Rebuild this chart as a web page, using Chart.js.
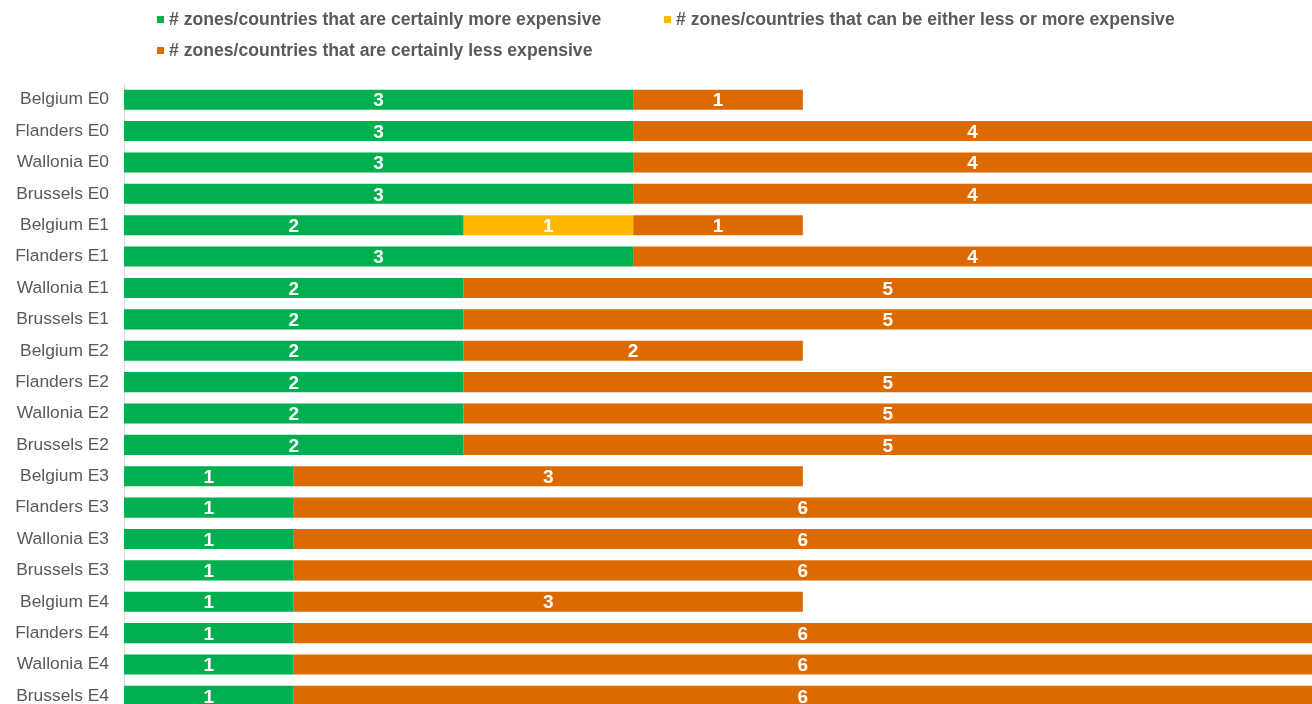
<!DOCTYPE html>
<html>
<head>
<meta charset="utf-8">
<script src="https://cdn.jsdelivr.net/npm/chart.js@4.4.1/dist/chart.umd.min.js"></script>
<style>
    html, body { margin: 0; padding: 0; background: #fff; overflow: hidden; }
    #wrap { position: relative; width: 1312px; height: 737px; }
    #legend {
        position: absolute; left: 157px; top: 9px; width: 1120px;
        display: flex; flex-wrap: wrap; row-gap: 11px;
        font-family: 'Liberation Sans', Arial, sans-serif; font-weight: bold;
        font-size: 17.6px; color: #595959; line-height: 20px;
    }
    .item { display: flex; align-items: center; min-width: 507px; }
    .box { width: 7px; height: 7px; margin-right: 5px; }
</style>
</head>
<body>
<div id="wrap">
    <canvas id="chart" width="1312" height="737"></canvas>
    <div id="legend"></div>
</div>
<script>
const categories = [
    'Belgium E0', 'Flanders E0', 'Wallonia E0', 'Brussels E0',
    'Belgium E1', 'Flanders E1', 'Wallonia E1', 'Brussels E1',
    'Belgium E2', 'Flanders E2', 'Wallonia E2', 'Brussels E2',
    'Belgium E3', 'Flanders E3', 'Wallonia E3', 'Brussels E3',
    'Belgium E4', 'Flanders E4', 'Wallonia E4', 'Brussels E4'
];
const moreExpensive = [3, 3, 3, 3, 2, 3, 2, 2, 2, 2, 2, 2, 1, 1, 1, 1, 1, 1, 1, 1];
const eitherWay = [null, null, null, null, 1, null, null, null, null, null, null, null, null, null, null, null, null, null, null, null];
const lessExpensive = [1, 4, 4, 4, 1, 4, 5, 5, 2, 5, 5, 5, 3, 6, 6, 6, 3, 6, 6, 6];

Chart.defaults.font.family = "'Liberation Sans', Arial, sans-serif";
Chart.defaults.color = '#595959';

// white numbers centred in each segment
const barLabels = {
    id: 'barLabels',
    afterDatasetsDraw(chart) {
        const ctx = chart.ctx;
        ctx.save();
        ctx.fillStyle = '#ffffff';
        ctx.font = "bold 19px 'Liberation Sans', Arial, sans-serif";
        ctx.textAlign = 'center';
        ctx.textBaseline = 'middle';
        chart.data.datasets.forEach((ds, i) => {
            chart.getDatasetMeta(i).data.forEach((bar, j) => {
                const v = ds.data[j];
                if (v == null) return;
                const p = bar.getProps(['x', 'base', 'y'], true);
                ctx.fillText(String(v), (p.x + p.base) / 2, p.y + 1.5);
            });
        });
        ctx.restore();
    }
};

const chart = new Chart(document.getElementById('chart'), {
    type: 'bar',
    data: {
        labels: categories,
        datasets: [
            { label: '# zones/countries that are certainly more expensive', data: moreExpensive, backgroundColor: '#00B050' },
            { label: '# zones/countries that can be either less or more expensive', data: eitherWay, backgroundColor: '#FFB700' },
            { label: '# zones/countries that are certainly less expensive', data: lessExpensive, backgroundColor: '#DD6A00' }
        ]
    },
    options: {
        indexAxis: 'y',
        responsive: false,
        animation: false,
        barPercentage: 0.64,
        categoryPercentage: 1,
        layout: { padding: { top: 84, bottom: 1, left: 0, right: 0 } },
        plugins: { legend: { display: false }, tooltip: { enabled: false } },
        scales: {
            x: { stacked: true, display: false, min: 0, max: 7 },
            y: {
                stacked: true,
                grid: { display: false, drawTicks: false },
                border: { display: true, color: '#d9d9d9', width: 1 },
                ticks: { font: { size: 17.4 }, color: '#595959', padding: 15 },
                afterFit(scale) { scale.width = 124; }
            }
        }
    },
    plugins: [barLabels]
});

// legend as html, built from the datasets
const legendEl = document.getElementById('legend');
chart.data.datasets.forEach(ds => {
    const item = document.createElement('div');
    item.className = 'item';
    const box = document.createElement('span');
    box.className = 'box';
    box.style.background = ds.backgroundColor;
    item.appendChild(box);
    item.appendChild(document.createTextNode(ds.label));
    legendEl.appendChild(item);
});
</script>
</body>
</html>
